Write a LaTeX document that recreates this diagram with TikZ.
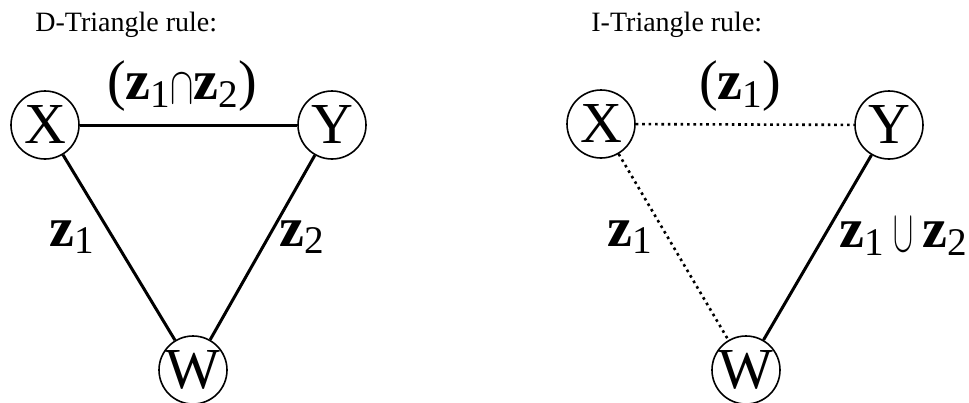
\documentclass[tikz,border=0pt]{standalone}
\usepackage{fontspec}
\setmainfont{Liberation Serif}
\usepackage{tikz}
\newcommand{\zv}[1]{\textbf{z}\raisebox{-0.3ex}{\scalebox{0.7}{#1}}}
\newcommand{\capop}{\raisebox{-0.15ex}{\scalebox{0.7}[1.05]{$\cap$}}}
\newcommand{\cupop}{\raisebox{-0.15ex}{\scalebox{0.6}[1.2]{$\cup$}}}

\begin{document}
\begin{tikzpicture}[
    x=0.5pt, y=-0.5pt,
    vtx/.style={draw, circle, line width=0.8pt, minimum size=34pt, inner sep=0pt, font=\fontsize{29}{31}\selectfont},
    solidedge/.style={line width=1.5pt},
    dotedge/.style={line width=1.3pt, dash pattern=on 1.3pt off 1.9pt},
    lbl/.style={font=\fontsize{28}{30}\selectfont, inner sep=0pt},
    ttl/.style={font=\fontsize{14}{16}\selectfont, anchor=base west, inner sep=0pt}
]
\useasboundingbox (0,0) rectangle (969,402);

% D-Triangle rule
\node[ttl] (dtitle) at (35,31) {D-Triangle rule:};
\node[vtx] (dx) at (45,125) {X};
\node[vtx] (dy) at (332,125) {Y};
\node[vtx] (dw) at (193,370) {W};

\draw[solidedge] (dx) -- (dy);
\draw[solidedge] (dx) -- (dw);
\draw[solidedge] (dy) -- (dw);

\node[lbl] (dxy) at (182,86) {(\zv{1}\capop\zv{2})};
\node[lbl] (dxw) at (72,237) {\zv{1}};
\node[lbl] (dyw) at (302,237) {\zv{2}};

% I-Triangle rule
\node[ttl] (ititle) at (591,31) {I-Triangle rule:};
\node[vtx] (ix) at (601,124) {X};
\node[vtx] (iy) at (889,125) {Y};
\node[vtx] (iw) at (746,370) {W};

\draw[dotedge] (ix) -- (iy);
\draw[dotedge] (ix) -- (iw);
\draw[solidedge] (iy) -- (iw);

\node[lbl] (ixy) at (740,86) {(\zv{1})};
\node[lbl] (ixw) at (630,237) {\zv{1}};
\node[lbl] (iyw) at (903,237) {\zv{1}\,\cupop\,\zv{2}};
\end{tikzpicture}
\end{document}
